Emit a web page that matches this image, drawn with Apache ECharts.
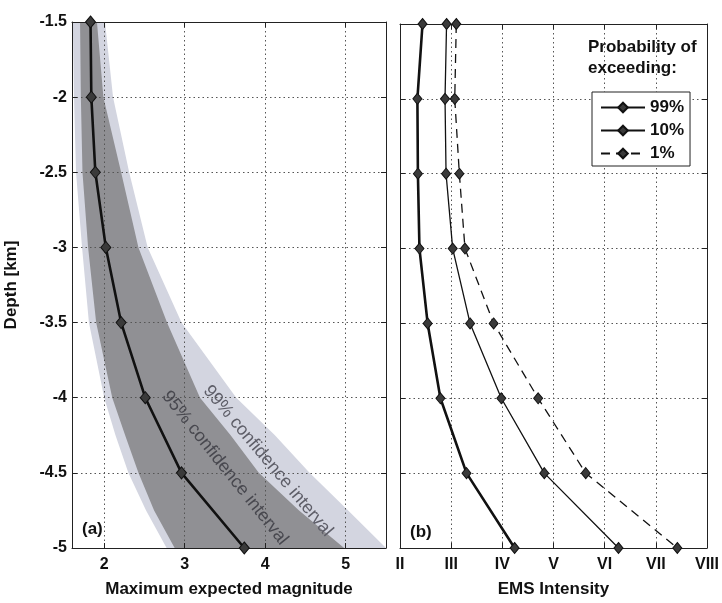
<!DOCTYPE html>
<html>
<head>
<meta charset="utf-8">
<script src="https://cdn.jsdelivr.net/npm/echarts@6/dist/echarts.min.js"></script>
<style>
html, body { margin: 0; padding: 0; background: #fff; }
#chart { width: 722px; height: 603px; }
</style>
</head>
<body>
<div id="chart"></div>
<script>
// depth of each estimate [km]
const depths = [-1.5, -2, -2.5, -3, -3.5, -4, -4.5, -5];
// (a) maximum expected magnitude
const magMean = [1.83, 1.84, 1.89, 2.02, 2.21, 2.51, 2.96, 3.74];
// confidence bands, read at these depths
const bandDepths = [-1.5, -2, -2.5, -3, -3.5, -4, -4.25, -4.5, -4.75, -5];
const ci99Low  = [1.61, 1.625, 1.65, 1.725, 1.81, 2.0, 2.14, 2.30, 2.52, 2.775];
const ci95Low  = [1.70, 1.71, 1.73, 1.80, 1.90, 2.10, 2.26, 2.425, 2.62, 2.875];
const ci95High = [1.91, 1.99, 2.21, 2.425, 2.78, 3.19, 3.57, 3.92, 4.42, 4.98];
const ci99High = [2.01, 2.11, 2.31, 2.54, 2.96, 3.64, 4.12, 4.55, 5.03, 5.5];
// (b) EMS intensity for each probability of exceeding
const ems99 = [2.44, 2.34, 2.35, 2.38, 2.54, 2.79, 3.30, 4.24];
const ems10 = [2.91, 2.88, 2.90, 3.03, 3.37, 3.98, 4.82, 6.27];
const ems1  = [3.10, 3.07, 3.16, 3.27, 3.83, 4.70, 5.63, 7.42];
const magTicks = [2, 3, 4, 5];
const emsLabels = ['II', 'III', 'IV', 'V', 'VI', 'VII', 'VIII'];

const FONT = 'Liberation Sans, Arial, sans-serif';
const INK = '#111';

let myChart = echarts.init(document.getElementById('chart'));

function pairs(xs) {
	return depths.map((d, i) => [xs[i], d]);
}

// band polygon: down the left edge, back up the right edge
function bandRender(low, high, fill) {
	return function (params, api) {
		let pts = [];
		for (let i = 0; i < bandDepths.length; i++) pts.push(api.coord([low[i], bandDepths[i]]));
		for (let i = bandDepths.length - 1; i >= 0; i--) pts.push(api.coord([high[i], bandDepths[i]]));
		return {
			type: 'polygon',
			shape: { points: pts },
			style: { fill: fill, stroke: null }
		};
	};
}

const gridLine = { show: true, lineStyle: { color: '#555', width: 1, type: [1.5, 3] } };
const boxLine = { show: true, onZero: false, lineStyle: { color: '#222', width: 1 } };
const tickLabel = { color: INK, fontFamily: FONT, fontWeight: 'bold', fontSize: 16 };
const nameStyle = { color: INK, fontFamily: FONT, fontWeight: 'bold', fontSize: 17 };

function lineSeries(name, data, width, dashed) {
	return {
		name: name,
		type: 'line',
		xAxisIndex: 2,
		yAxisIndex: 2,
		data: pairs(data),
		symbol: 'diamond',
		symbolSize: [9, 11],
		showSymbol: true,
		itemStyle: { color: '#3a3a3a', borderColor: '#111', borderWidth: 1 },
		lineStyle: { color: '#111', width: width, type: dashed ? [9, 6] : 'solid' },
		z: 3
	};
}

let option = {
	animation: false,
	backgroundColor: '#fff',
	textStyle: { fontFamily: FONT },
	title: {
		text: 'Probability of\nexceeding:',
		left: 588,
		top: 37,
		padding: 0,
		textStyle: { color: INK, fontFamily: FONT, fontWeight: 'bold', fontSize: 17, lineHeight: 21 }
	},
	legend: {
		data: ['99%', '10%', '1%'],
		orient: 'vertical',
		left: 592,
		top: 92,
		padding: [7, 6, 4, 8],
		itemGap: 6,
		itemWidth: 44,
		itemHeight: 12,
		backgroundColor: '#fff',
		borderColor: '#222',
		borderWidth: 1,
		borderRadius: 0,
		selectedMode: false,
		textStyle: { color: INK, fontFamily: FONT, fontWeight: 'bold', fontSize: 17, width: 38, align: 'right' }
	},
	grid: [
		{ left: 72, top: 22, width: 314, height: 530 },
		{ left: 400, top: 24, width: 315, height: 531 }
	],
	xAxis: [
		{
			gridIndex: 0, type: 'value', min: 1.6, max: 5.5,
			axisLine: boxLine,
			axisTick: { inside: true, length: 5, customValues: magTicks, lineStyle: { color: '#222' } },
			axisLabel: Object.assign({ customValues: magTicks, margin: 9 }, tickLabel),
			splitLine: gridLine,
			name: 'Maximum expected magnitude', nameLocation: 'middle', nameGap: 33,
			nameTextStyle: nameStyle
		},
		{
			gridIndex: 0, type: 'value', min: 1.6, max: 5.5, position: 'top',
			axisLine: boxLine,
			axisTick: { inside: true, length: 5, customValues: magTicks, lineStyle: { color: '#222' } },
			axisLabel: { show: false },
			splitLine: { show: false }
		},
		{
			gridIndex: 1, type: 'value', min: 2, max: 8, interval: 1,
			axisLine: boxLine,
			axisTick: { inside: true, length: 5, lineStyle: { color: '#222' } },
			axisLabel: Object.assign({ margin: 9, formatter: v => emsLabels[Math.round(v) - 2] }, tickLabel),
			splitLine: gridLine,
			name: 'EMS Intensity', nameLocation: 'middle', nameGap: 33,
			nameTextStyle: nameStyle
		},
		{
			gridIndex: 1, type: 'value', min: 2, max: 8, interval: 1, position: 'top',
			axisLine: boxLine,
			axisTick: { inside: true, length: 5, lineStyle: { color: '#222' } },
			axisLabel: { show: false },
			splitLine: { show: false }
		}
	],
	yAxis: [
		{
			gridIndex: 0, type: 'value', min: -5, max: -1.5, interval: 0.5,
			axisLine: boxLine,
			axisTick: { inside: true, length: 5, lineStyle: { color: '#222' } },
			axisLabel: Object.assign({ margin: 5 }, tickLabel),
			splitLine: gridLine,
			name: 'Depth [km]', nameLocation: 'middle', nameGap: 52, nameRotate: 90,
			nameTextStyle: nameStyle
		},
		{
			gridIndex: 0, type: 'value', min: -5, max: -1.5, interval: 0.5, position: 'right',
			axisLine: boxLine,
			axisTick: { inside: true, length: 5, lineStyle: { color: '#222' } },
			axisLabel: { show: false },
			splitLine: { show: false }
		},
		{
			gridIndex: 1, type: 'value', min: -5, max: -1.5, interval: 0.5,
			axisLine: boxLine,
			axisTick: { inside: true, length: 5, lineStyle: { color: '#222' } },
			axisLabel: { show: false },
			splitLine: gridLine
		},
		{
			gridIndex: 1, type: 'value', min: -5, max: -1.5, interval: 0.5, position: 'right',
			axisLine: boxLine,
			axisTick: { inside: true, length: 5, lineStyle: { color: '#222' } },
			axisLabel: { show: false },
			splitLine: { show: false }
		}
	],
	graphic: [
		{ type: 'text', left: 82, top: 521, style: { text: '(a)', fill: INK, font: 'bold 17px ' + FONT } },
		{ type: 'text', left: 410, top: 524, style: { text: '(b)', fill: INK, font: 'bold 17px ' + FONT } },
		{
			type: 'text', x: 268, y: 461, rotation: -50 * Math.PI / 180, z: 10,
			style: { text: '99% confidence interval', fill: '#5e5e68', font: '18px ' + FONT, align: 'center', verticalAlign: 'middle' }
		},
		{
			type: 'text', x: 225, y: 468, rotation: -51.5 * Math.PI / 180, z: 10,
			style: { text: '95% confidence interval', fill: '#48484f', font: '18px ' + FONT, align: 'center', verticalAlign: 'middle' }
		}
	],
	series: [
		{
			type: 'custom', name: 'ci99', xAxisIndex: 0, yAxisIndex: 0, z: -1,
			data: [[ci99Low[0], bandDepths[0]]],
			renderItem: bandRender(ci99Low, ci99High, '#d3d5e0'),
			silent: true
		},
		{
			type: 'custom', name: 'ci95', xAxisIndex: 0, yAxisIndex: 0, z: -1,
			data: [[ci95Low[0], bandDepths[0]]],
			renderItem: bandRender(ci95Low, ci95High, '#909094'),
			silent: true
		},
		{
			name: 'magnitude',
			type: 'line',
			xAxisIndex: 0,
			yAxisIndex: 0,
			data: pairs(magMean),
			symbol: 'diamond',
			symbolSize: [10, 12],
			itemStyle: { color: '#3a3a3a', borderColor: '#111', borderWidth: 1 },
			lineStyle: { color: '#111', width: 2.6 },
			z: 3
		},
		lineSeries('99%', ems99, 2.6, false),
		lineSeries('10%', ems10, 1.3, false),
		lineSeries('1%', ems1, 1.3, true)
	]
};

myChart.setOption(option);
</script>
</body>
</html>
